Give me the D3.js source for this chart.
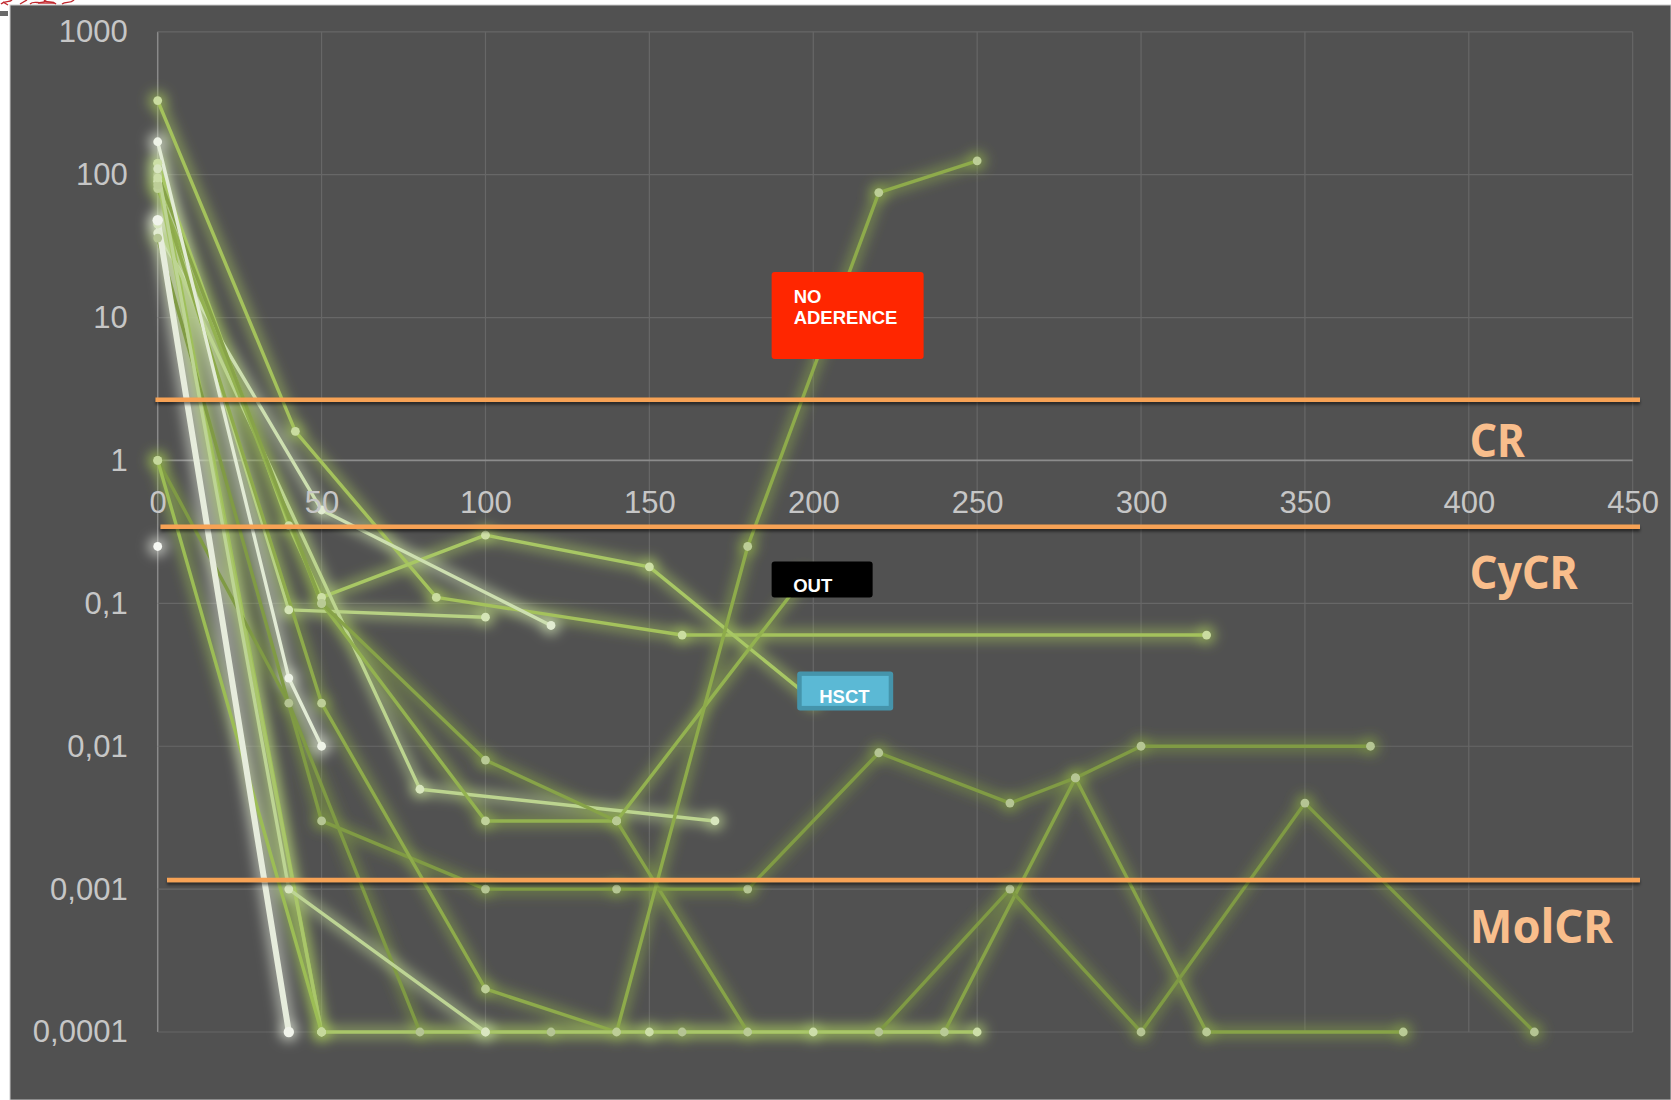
<!DOCTYPE html>
<html>
<head>
<meta charset="utf-8">
<script src="https://cdn.jsdelivr.net/npm/d3@7"></script>
<style>
  html, body { margin: 0; padding: 0; background: #ffffff; }
  svg { display: block; }
</style>
</head>
<body>
<svg id="chart" width="1671" height="1100"></svg>
<script>
// ---- axis ticks ----
const dayTicks = [0, 50, 100, 150, 200, 250, 300, 350, 400, 450];
const ratioTicks = [0.0001, 0.001, 0.01, 0.1, 1, 10, 100, 1000];
const ratioTickLabels = ["0,0001", "0,001", "0,01", "0,1", "1", "10", "100", "1000"];

// ---- response thresholds ----
const responseNames = ["CR", "CyCR", "MolCR"];
const responseLevels = [2.66, 0.344, 0.00116];

// ---- BCR-ABL ratio per patient, [day, value] ----
const pt01 = [[0, 330], [42, 1.6], [85, 0.11], [160, 0.06], [320, 0.06]];
const pt02 = [[0, 120], [40, 0.35], [50, 0.11], [100, 0.3], [150, 0.18], [200, 0.021]];
const pt03 = [[0, 90], [40, 0.09], [100, 0.08]];
const pt04 = [[0, 39], [50, 0.45], [120, 0.07]];
const pt05 = [[0, 45], [80, 0.005], [170, 0.003]];
const pt06 = [[0, 80], [50, 0.1], [100, 0.003], [140, 0.003], [197, 0.15]];
const pt07 = [[0, 100], [50, 0.1], [100, 0.008], [140, 0.003], [180, 0.0001], [240, 0.0001], [280, 0.006], [320, 0.0001], [380, 0.0001]];
const pt08 = [[0, 36], [50, 0.003], [100, 0.001], [140, 0.001], [180, 0.001], [220, 0.009], [260, 0.004], [280, 0.006], [300, 0.01], [370, 0.01]];
const pt09 = [[0, 85], [50, 0.02], [100, 0.0002], [140, 0.0001], [180, 0.25], [220, 75], [250, 125]];
const pt10 = [[0, 1], [40, 0.02], [80, 0.0001], [120, 0.0001], [160, 0.0001], [220, 0.0001], [260, 0.001], [300, 0.0001], [350, 0.004], [420, 0.0001]];
const pt11 = [[0, 95], [50, 0.0001], [100, 0.0001], [150, 0.0001], [200, 0.0001], [250, 0.0001]];
const pt12 = [[0, 1], [50, 0.0001]];
const pt13 = [[0, 170], [40, 0.03], [50, 0.01]];
const pt14 = [[0, 110], [40, 0.001], [100, 0.0001]];
const pt15 = [[0, 48], [40, 0.0001]];
const pt16 = [[0, 0.25]];
const pt17 = [[0, 120], [50, 0.0001]];

// ---- event notes ----
const noteTexts = [["NO", "ADERENCE"], ["OUT"], ["HSCT"]];

// ---- styling (kept apart from the values) ----
const patients = [pt17, pt01, pt02, pt03, pt04, pt05, pt06, pt07, pt08, pt09, pt10, pt11, pt12, pt13, pt14, pt15, pt16];
const patientColors = ["#9fc05a", "#a4c25c", "#a8c764", "#b7d183", "#cddfb0", "#bcd48f", "#93b250", "#87a348", "#809b44",
                       "#8eab4b", "#7f9a44", "#a9c66a", "#9cbd55", "#e2ebd5", "#bdd494", "#e6ecdc", "#f0f3ea"];
const patientWidths = [3.4, 3.4, 3.4, 3.4, 3.4, 3.4, 3.4, 3.4, 3.4, 3.4, 3.4, 3.4, 3.4, 3.4, 3.4, 6, 3.4];

const W = 1671, H = 1100;
const svg = d3.select("#chart");

const x = d3.scaleLinear().domain([0, 450]).range([157.7, 1632.7]);
const y = d3.scaleLog().domain([0.0001, 1000]).range([1032, 31.8]);

// filters
const defs = svg.append("defs");
const glow = defs.append("filter").attr("id", "glow")
  .attr("filterUnits", "userSpaceOnUse").attr("x", 0).attr("y", 0).attr("width", W).attr("height", H);
glow.append("feGaussianBlur").attr("stdDeviation", 6);
const shadow = defs.append("filter").attr("id", "shadow")
  .attr("filterUnits", "userSpaceOnUse").attr("x", 0).attr("y", 0).attr("width", W).attr("height", H);
shadow.append("feDropShadow").attr("dx", 0).attr("dy", 2.5).attr("stdDeviation", 1.5)
  .attr("flood-color", "#000").attr("flood-opacity", 0.55);

// page + panel
svg.append("rect").attr("width", W).attr("height", H).attr("fill", "#ffffff");
svg.append("rect").attr("x", 10).attr("y", 5).attr("width", W - 10).attr("height", H - 5)
  .attr("fill", "#515151").attr("stroke", "#c9c9c9").attr("stroke-width", 1);
// stray clip-art fragment in the corner
svg.append("rect").attr("x", 0).attr("y", 11).attr("width", 8).attr("height", 5).attr("fill", "#6a6a6a");
svg.append("g").attr("fill", "none").attr("stroke", "#c0272d").attr("stroke-width", 1.4)
  .selectAll("path")
  .data(["M1,4 C5,0 9,3 12,0", "M3,2 L8,5", "M20,4 L27,0", "M30,4 C34,0 40,5 46,1", "M38,3 L54,3", "M44,0 C48,4 52,0 56,4", "M62,4 C66,1 70,4 74,0"])
  .join("path").attr("d", d => d);

// grid
const grid = svg.append("g");
grid.selectAll("line.v").data(dayTicks).join("line")
  .attr("x1", d => x(d)).attr("x2", d => x(d))
  .attr("y1", y(1000)).attr("y2", y(0.0001))
  .attr("stroke", d => d === 0 ? "#8a8a8a" : "#676767").attr("stroke-width", d => d === 0 ? 1.5 : 1.2);
grid.selectAll("line.h").data(ratioTicks).join("line")
  .attr("x1", x(0)).attr("x2", x(450))
  .attr("y1", d => y(d)).attr("y2", d => y(d))
  .attr("stroke", d => d === 1 ? "#8c8c8c" : "#676767").attr("stroke-width", d => d === 1 ? 1.8 : 1.2);

// patient curves
const line = d3.line().x(d => x(d[0])).y(d => y(d[1]));
const glowLayer = svg.append("g").attr("filter", "url(#glow)");
const lineLayer = svg.append("g");
const dotLayer = svg.append("g");

patients.forEach((pts, i) => {
  const c = patientColors[i];
  const dotFill = d3.interpolateRgb(c, "#ffffff")(0.42);
  if (pts.length > 1) {
    glowLayer.append("path").datum(pts).attr("d", line)
      .attr("fill", "none").attr("stroke", c).attr("stroke-width", patientWidths[i] + 10)
      .attr("stroke-opacity", 0.5).attr("stroke-linejoin", "round");
    lineLayer.append("path").datum(pts).attr("d", line)
      .attr("fill", "none").attr("stroke", c).attr("stroke-width", patientWidths[i])
      .attr("stroke-linejoin", "round").attr("stroke-linecap", "round");
  }
  glowLayer.selectAll(null).data(pts).join("circle")
    .attr("cx", d => x(d[0])).attr("cy", d => y(d[1])).attr("r", 10)
    .attr("fill", c).attr("fill-opacity", 0.6);
  dotLayer.selectAll(null).data(pts).join("circle")
    .attr("cx", d => x(d[0])).attr("cy", d => y(d[1])).attr("r", patientWidths[i] > 4 ? 5.2 : 4.4)
    .attr("fill", dotFill);
});

// axes
const tickFont = "'Liberation Sans', Arial, sans-serif";
const xAxis = svg.append("g").attr("transform", `translate(0,${y(1)})`)
  .call(d3.axisBottom(x).tickValues(dayTicks).tickFormat(d3.format("d")).tickSize(0).tickPadding(31));
const yAxis = svg.append("g").attr("transform", `translate(${x(0)},0)`)
  .call(d3.axisLeft(y).tickValues(ratioTicks).tickFormat((d, i) => ratioTickLabels[i]).tickSize(0).tickPadding(30));
[xAxis, yAxis].forEach(g => {
  g.select(".domain").remove();
  g.selectAll("text").attr("font-family", tickFont).attr("font-size", 31)
    .attr("fill", "#c6c6c6");
});

// response thresholds
const levelStarts = [155.5, 160.5, 167];
const labelDrops = [57.5, 62.4, 62.8];
const labelWidths = [55, 108, 143];
svg.append("g").attr("filter", "url(#shadow)")
  .selectAll("line").data(responseLevels).join("line")
  .attr("x1", (d, i) => levelStarts[i]).attr("x2", 1640)
  .attr("y1", d => y(d)).attr("y2", d => y(d))
  .attr("stroke", "#f7a254").attr("stroke-width", 4.5);
svg.append("g").selectAll("text").data(responseNames).join("text")
  .attr("x", x(400) + 1)
  .attr("y", (d, i) => y(responseLevels[i]) + labelDrops[i])
  .attr("font-family", "'Noto Sans', 'Open Sans', sans-serif").attr("font-weight", 700)
  .attr("font-size", 47).attr("fill", "#f9be8c")
  .attr("textLength", (d, i) => labelWidths[i]).attr("lengthAdjust", "spacingAndGlyphs")
  .text(d => d);

// event notes, anchored in chart coordinates
const noteFont = "'Liberation Sans', Arial, sans-serif";
function note(day, value, w, h, fill) {
  const g = svg.append("g").attr("transform", `translate(${x(day)},${y(value)})`);
  g.append("rect").attr("width", w).attr("height", h).attr("rx", 3).attr("fill", fill);
  return g;
}
// NO ADERENCE
const g1 = note(187.3, 20.8, 152, 87, "#ff2600");
g1.selectAll("text").data(noteTexts[0]).join("text")
  .attr("x", 22).attr("y", (d, i) => 31 + i * 21)
  .attr("font-family", noteFont).attr("font-weight", 700).attr("font-size", 18.5)
  .attr("fill", "#ffffff").text(d => d);
// OUT
const g2 = note(187.3, 0.196, 101, 36, "#000000");
g2.append("text").attr("x", 21.6).attr("y", 30.8)
  .attr("font-family", noteFont).attr("font-weight", 700).attr("font-size", 18.5)
  .attr("fill", "#ffffff").text(noteTexts[1][0]);
// HSCT
const g3 = note(195.1, 0.0334, 96, 39, "#4594ab");
g3.append("rect").attr("x", 4.5).attr("y", 4.5).attr("width", 87).attr("height", 30).attr("fill", "#5bb9d5");
g3.append("text").attr("x", 22).attr("y", 31.5)
  .attr("font-family", noteFont).attr("font-weight", 700).attr("font-size", 18.5)
  .attr("fill", "#ffffff").text(noteTexts[2][0]);
</script>
</body>
</html>
